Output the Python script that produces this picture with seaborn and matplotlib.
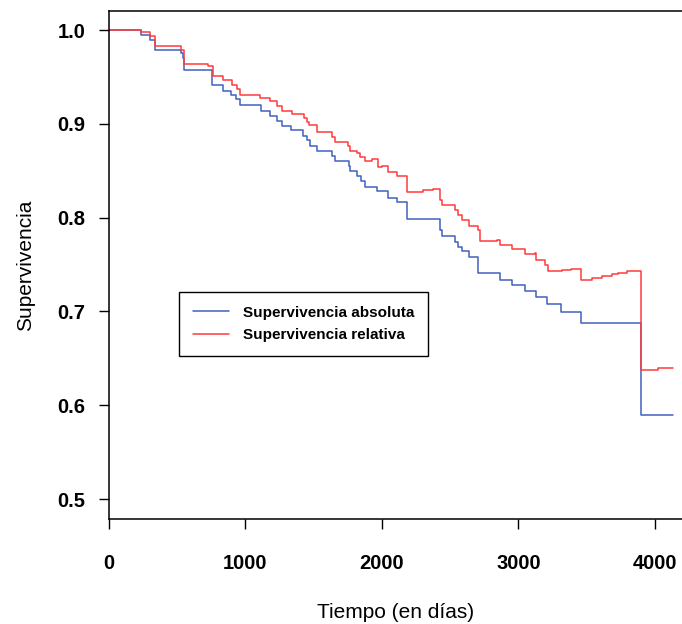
import matplotlib
matplotlib.use("Agg")
import matplotlib.pyplot as plt
import seaborn as sns
import pandas as pd

# survival steps (days, survival)
t_abs = [0, 234, 300, 337, 527, 542, 549, 755, 835, 894, 930, 960, 1114, 1179,
         1231, 1267, 1333, 1421, 1451, 1473, 1524, 1634, 1656, 1758, 1766, 1817,
         1846, 1875, 1963, 2044, 2110, 2183, 2425, 2440, 2535, 2557, 2586, 2637,
         2703, 2864, 2952, 3048, 3128, 3209, 3311, 3458, 3897, 4132]
s_abs = [1.0, 0.995, 0.989, 0.979, 0.975, 0.970, 0.957, 0.941, 0.935, 0.931,
         0.926, 0.920, 0.914, 0.908, 0.903, 0.898, 0.893, 0.887, 0.883, 0.876,
         0.871, 0.866, 0.860, 0.855, 0.850, 0.844, 0.839, 0.833, 0.828, 0.821,
         0.817, 0.799, 0.787, 0.780, 0.774, 0.769, 0.764, 0.758, 0.741, 0.734,
         0.728, 0.722, 0.715, 0.708, 0.699, 0.688, 0.590, 0.590]

t_rel = [0, 234, 300, 337, 527, 549, 725, 762, 835, 901, 938, 960, 1106, 1179,
         1231, 1267, 1341, 1429, 1451, 1465, 1524, 1634, 1656, 1751, 1766, 1817,
         1839, 1875, 1927, 1971, 2000, 2044, 2110, 2183, 2300, 2374, 2425, 2440,
         2535, 2557, 2586, 2637, 2703, 2718, 2842, 2864, 2952, 3048, 3121, 3128,
         3194, 3216, 3319, 3385, 3458, 3538, 3612, 3685, 3729, 3795, 3897, 4022,
         4132]
s_rel = [1.0, 0.998, 0.994, 0.983, 0.979, 0.964, 0.962, 0.951, 0.947, 0.941,
         0.937, 0.931, 0.928, 0.924, 0.919, 0.914, 0.910, 0.906, 0.902, 0.899,
         0.891, 0.886, 0.881, 0.876, 0.871, 0.869, 0.865, 0.860, 0.862, 0.854,
         0.855, 0.849, 0.844, 0.827, 0.829, 0.830, 0.819, 0.813, 0.808, 0.803,
         0.797, 0.791, 0.787, 0.775, 0.776, 0.771, 0.767, 0.761, 0.762, 0.755,
         0.749, 0.743, 0.744, 0.745, 0.733, 0.736, 0.738, 0.740, 0.741, 0.743,
         0.638, 0.640, 0.640]

labels = ["Supervivencia absoluta", "Supervivencia relativa"]
x_ticks = [0, 1000, 2000, 3000, 4000]
y_ticks = [0.5, 0.6, 0.7, 0.8, 0.9, 1.0]

df = pd.concat([
    pd.DataFrame({"t": t_abs, "s": s_abs, "serie": labels[0]}),
    pd.DataFrame({"t": t_rel, "s": s_rel, "serie": labels[1]}),
])

sns.set_style("ticks")
plt.rcParams["font.family"] = ["Liberation Sans", "DejaVu Sans"]
plt.rcParams["text.color"] = "black"
plt.rcParams["axes.labelcolor"] = "black"
plt.rcParams["xtick.color"] = "black"
plt.rcParams["ytick.color"] = "black"

fig = plt.figure(figsize=(6.82, 6.24), dpi=100)
ax = fig.add_axes([0.1598, 0.1683, 0.8402, 0.8141])

sns.lineplot(data=df, x="t", y="s", hue="serie", estimator=None,
             palette=["#4060C0", "#FF3B3B"], drawstyle="steps-post",
             linewidth=1.1, ax=ax)

ax.set_xlim(0, 4198)
ax.set_ylim(0.4787, 1.0203)
ax.set_xticks(x_ticks)
ax.set_yticks(y_ticks)
ax.set_xticklabels([str(v) for v in x_ticks], fontsize=14.5, fontweight="bold")
ax.set_yticklabels([f"{v:.1f}" for v in y_ticks], fontsize=14.5, fontweight="bold")
ax.tick_params(axis="both", direction="out", length=7, width=1, color="black",
               bottom=True, left=True)
ax.tick_params(axis="x", pad=18)
ax.tick_params(axis="y", pad=10)

for side in ["left", "bottom", "top"]:
    ax.spines[side].set_visible(True)
    ax.spines[side].set_color("black")
    ax.spines[side].set_linewidth(1.1)
ax.spines["right"].set_visible(False)

ax.set_xlabel("Tiempo (en días)", fontsize=15, labelpad=22)
ax.set_ylabel("Supervivencia", fontsize=15, labelpad=16)

leg = ax.legend(loc="upper left", bbox_to_anchor=(0.122, 0.447), borderaxespad=0,
                prop={"size": 11, "weight": "bold"}, handlelength=2.4,
                frameon=True, fancybox=False, borderpad=0.9, labelspacing=0.55,
                handletextpad=0.9)
leg.get_frame().set_edgecolor("black")
leg.get_frame().set_linewidth(1.0)
leg.get_frame().set_alpha(1)

fig.savefig("out.png", dpi=100)
